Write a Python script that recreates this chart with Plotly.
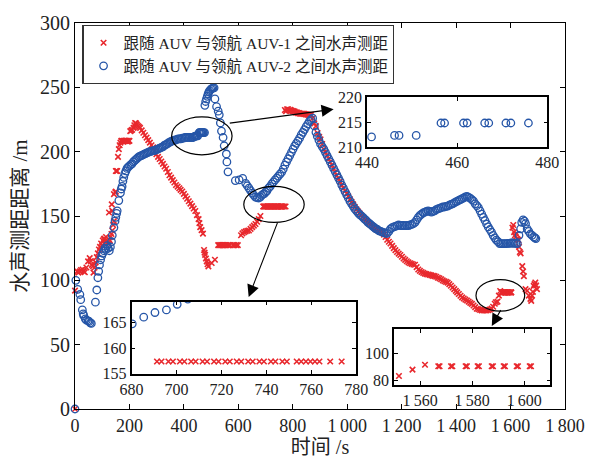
import plotly.graph_objects as go

# ---------------- data ----------------
blue_t = [0, 3, 10, 18, 21, 27, 30, 32, 38, 42, 48, 52, 56, 60,
          75, 80, 84, 87, 90, 94, 98, 102, 106, 110, 114, 118, 122, 126, 130, 134, 137, 143, 147, 150, 153, 155,
          161, 167, 170, 173, 176, 179, 183, 187, 191, 195, 200, 205, 209, 214, 219, 224, 229, 234, 239, 244,
          249, 254, 259, 264, 269, 274, 279, 284, 289, 294, 299, 304, 309, 314, 319, 324, 329, 334, 339, 344,
          349, 354, 359, 364, 369, 374, 379, 384, 389, 394, 399, 404, 409, 414, 419, 424, 429, 434, 437, 441,
          446.1, 447.1, 450.9, 456.4, 457.2, 461.4, 462.2, 466.1, 467, 470.8, 471.9, 475.8,
          477, 480, 483, 486, 489, 492, 495, 499, 503, 507, 511,
          514, 520, 526, 530, 534, 538, 544, 548, 556, 558, 562, 589, 603, 616, 627, 633, 639, 645, 651, 657,
          663, 669, 675, 680.3, 685.4, 690.4, 695.5, 700.3,
          705, 711, 717, 723, 729, 735, 741, 747, 753, 759, 765, 771, 777, 783, 789, 795, 801, 807, 813, 819,
          825, 831, 837, 843, 849, 855, 861, 867, 873,
          879, 885, 890, 896, 902, 908, 914, 920, 926, 932, 938, 944, 950, 956, 962, 968, 974, 980, 986, 992,
          998, 1004, 1010, 1016, 1022, 1028, 1034, 1040, 1046, 1052, 1058, 1064, 1070, 1076, 1082, 1088, 1094,
          1100, 1105, 1111, 1117, 1123, 1129, 1135, 1141, 1147, 1153, 1159, 1165, 1171, 1177, 1183, 1189, 1195,
          1201, 1207, 1213, 1219, 1225, 1231, 1237, 1243, 1249, 1255, 1261, 1267, 1273, 1279, 1285, 1291, 1297,
          1303, 1309, 1315, 1321, 1327, 1333, 1339, 1345, 1351, 1357, 1363, 1369, 1375, 1381, 1387, 1393, 1399,
          1405, 1411, 1416, 1422, 1428, 1434, 1440, 1446, 1452, 1458, 1464, 1470, 1476, 1482, 1488, 1494, 1500,
          1506, 1512, 1518, 1524, 1530, 1536, 1542, 1548, 1554, 1560, 1566, 1572, 1578, 1584, 1590, 1596, 1602,
          1607, 1613, 1619, 1625, 1631, 1637, 1641, 1646, 1651, 1655, 1661, 1667, 1673, 1679, 1685, 1689, 1693]
blue_d = [0, 100, 93, 89, 85, 77, 74, 72.5, 70, 69, 68.5, 68, 67, 66.5,
          83, 92.5, 102, 107, 112, 116, 119, 121, 123, 125, 124, 127, 125, 123, 126, 130, 135, 141, 146, 149, 152, 154,
          162, 168, 171, 173, 177, 180, 183, 185, 187, 188, 189, 190, 190.5, 192, 193, 194, 195, 196, 196.5, 197,
          197.5, 198, 198.5, 199, 199.5, 200, 200.3, 200.6, 200.8, 201, 201.5, 202, 202.5, 203, 203.5, 204, 205, 205.5, 206, 207,
          207.5, 208, 208.5, 209, 209, 209.5, 210, 210, 210, 210.5, 210.5, 211, 211, 211, 211, 211, 211, 211, 211.5, 212,
          212.3, 212.3, 212.3, 214.8, 214.8, 214.8, 214.8, 214.8, 214.8, 214.8, 214.8, 214.8,
          236, 239, 241, 243, 245, 246.5, 247.5, 248.5, 249, 249.5, 249.6,
          241, 235, 231.5, 228.6, 222.3, 216, 211, 204.6, 198.2, 192, 184.3, 177.5, 178, 179.2, 175.4, 173.5, 171.6, 169.7, 167.8, 166.2,
          164.6, 164.2, 164, 164.7, 166, 166.9, 167.4, 168.5,
          169.5, 171.6, 173, 175, 176.5, 178, 179.5, 181, 182.5, 184, 186.5, 189.5, 192, 194.5, 197, 199.5, 202, 204.5, 206.5, 208.4,
          210.5, 213, 215, 217.2, 219.5, 221.5, 223.6, 225, 226,
          220, 215, 212, 209, 206, 204, 202, 199.5, 197, 194.5, 192, 189.5, 187, 184.5, 182, 179.5, 177, 174, 171.6, 169,
          166.5, 164, 161.5, 159.5, 157.5, 155.5, 154, 152.5, 151, 150, 149, 147.5, 146.5, 145, 144, 143, 142,
          141, 140, 139.5, 138.5, 138, 137.5, 137, 136.5, 136.5, 138, 140, 141, 141.5, 142, 142.5, 143, 142.5,
          142.6, 142.6, 142.5, 142.6, 142.6, 143, 143.5, 144, 145, 147, 149, 150.5, 151.4, 152.5, 153, 153.5, 154,
          153.5, 153, 153.5, 154, 155, 155.5, 156, 156.5, 157, 157, 157.5, 157.7, 158.5, 159, 159.5, 160.2, 161,
          161.5, 162.3, 162.8, 163.5, 164, 164.8, 165.3, 164.5, 163.8, 162.8, 161.5, 159.5, 158, 156.5, 154, 151.4, 149,
          146.5, 143.8, 141.5, 139.5, 137.5, 135, 133, 131.2, 130, 128.6, 128.6, 128.6, 128.6, 128.6, 128.7, 128.8, 129,
          129, 128.8, 128.7, 128.6, 135, 140, 145, 147, 146, 144, 140, 138, 136, 135, 133.7, 133, 132.5]

red_t = [0, 0, 8, 12, 18, 22, 28, 32, 36, 42, 48, 54, 58, 62, 66, 68, 72, 76, 80, 84, 88, 92, 96, 100, 102, 106,
         108, 112, 114, 118, 122, 125, 125, 128, 131, 134, 135, 137, 137, 140, 143, 143, 148, 150, 150, 153, 155,
         158, 161, 164, 167, 170, 173, 176, 179, 182, 185, 188, 191, 194, 197, 200, 203, 207, 210, 215, 218, 221,
         224, 227, 231, 235, 239, 245, 251, 257, 263, 269, 275, 281, 287, 293, 299, 305, 311, 317, 323, 329, 335,
         341, 347, 353, 359, 365, 371, 377, 383, 388, 394, 400, 406, 412, 418, 424, 430, 436, 442, 448, 454, 457,
         460, 465, 470, 474, 476, 478, 481, 484, 487, 490, 502, 514, 526, 530, 534, 538, 542, 546, 550, 556, 562,
         568, 580, 586, 592, 598, 610, 615, 621, 627, 633, 639, 645, 651, 657, 663, 669, 675, 681,
         691.3, 693.3, 696.4, 698.4, 701.5, 703.5, 706.5, 708.5, 711.6, 713.6, 716.7, 718.7, 721.7, 723.7, 726.8,
         728.8, 731.9, 733.9, 736.9, 738.9, 742, 744, 747.1, 749.1, 753.5, 755.5, 757.6, 759.6, 761.6, 763.6,
         768.4, 773.5,
         771, 775, 779, 783, 787, 791, 795, 799, 803, 807, 811, 815, 819, 823, 827, 831, 835, 839, 843, 847, 851,
         855, 859, 863, 867,
         873, 879, 885, 891, 897, 902, 908, 914, 920, 926, 932, 938, 944, 950, 956, 962, 968, 974, 980, 986, 992,
         998, 1004, 1010, 1016, 1022, 1028, 1034, 1040, 1046, 1052, 1058, 1064, 1070, 1076, 1082, 1088, 1094, 1100,
         1105, 1111, 1117, 1123, 1129, 1135, 1141, 1147, 1153, 1159, 1165, 1171, 1177, 1183, 1189, 1195, 1201, 1207,
         1213, 1219, 1225, 1231, 1237, 1243, 1249, 1255, 1261, 1267, 1273, 1279, 1285, 1291, 1297, 1303, 1309, 1315,
         1321, 1327, 1333, 1339, 1345, 1351, 1357, 1363, 1369, 1375, 1381, 1387, 1393, 1399, 1404, 1410, 1416, 1422,
         1428, 1434, 1440, 1446, 1452, 1458, 1464, 1470, 1476, 1482, 1488, 1494, 1500, 1506, 1512, 1518, 1524, 1530,
         1536, 1542, 1546, 1551.9, 1557.1, 1561.9, 1567, 1567.5, 1571.9, 1572.4, 1577.5, 1578, 1582.1, 1582.6,
         1587.5, 1588, 1592.1, 1592.6, 1597.1, 1597.6, 1602.1, 1602.6,
         1607, 1610, 1613, 1616, 1619, 1622, 1625, 1629, 1631, 1634, 1637, 1643, 1646, 1649, 1655, 1661, 1667,
         1673, 1676, 1679, 1682, 1685, 1688, 1691, 1694, 1697]
red_d = [0, 92, 107, 106, 107, 108, 108.4, 107, 106.3, 110, 114.7, 117.3, 115, 112, 111, 106, 110, 114, 118, 121, 124, 126, 128.6, 127, 131, 132,
         132.5, 131, 133.7, 129, 130, 128.6, 152.7, 131, 133.7, 136, 159, 138.7, 154, 143, 146, 167, 168.5, 169, 185, 185, 185,
         196, 202, 205, 207, 208.4, 208.4, 208, 208.4, 208.4, 208.4, 208.4, 208.4, 207.8, 208.4, 208.4, 216, 216.5, 217, 218.5, 220.5, 222.3,
         222, 221, 220, 219.3, 218.5, 216.6, 214.7, 212.8, 210.9, 209, 207, 205, 203.3, 200.5, 198, 196, 194.3, 192.4, 190.5, 188.5, 186.7,
         184.2, 181.7, 179.8, 177.9, 176, 174.1, 172.8, 171.6, 170.3, 169, 167.2, 165.3, 163.4, 161.5, 159.6, 157.7, 155.8, 153.9, 150.7, 147.6, 144.5,
         141.3, 139, 136.3, 123.6, 121.5, 119.8, 117, 114.7, 112.5, 110.9, 113.5, 116, 127.4, 127.4, 127.4, 127.4, 127.4, 127.4, 127.4, 127.4, 127.4,
         127.4, 127.4, 127.4, 127.4, 127.4, 135, 136.5, 137.5, 138, 138.5, 138.7, 140, 141.3, 142.5, 143.8, 145.5, 147.6, 150,
         157.4, 157.4, 157.4, 157.4, 157.4, 157.4, 157.4, 157.4, 157.4, 157.4, 157.4, 157.4, 157.4, 157.4, 157.4,
         157.4, 157.4, 157.4, 157.4, 157.4, 157.4, 157.4, 157.4, 157.4, 157.4, 157.4, 157.4, 157.4, 157.4, 157.4,
         157.4, 157.4,
         232.4, 231.5, 233, 233, 232, 232.5, 232, 231.5, 231.5, 231.2, 230.5, 230.5, 230, 230, 229.5, 229.5, 229.5, 229.4, 229.4, 229, 229,
         228.8, 228.6, 228.6, 228.6,
         226, 222, 219.8, 214.5, 211.5, 209.6, 206, 202, 199.5, 197, 194.5, 192, 189.5, 186.8, 184, 181.5, 179.2, 176.7, 174, 171.6, 169.4,
         167.5, 165.3, 163, 161, 159, 157, 155.2, 153.5, 152, 150.5, 149, 147.8, 146.5, 145.2, 144, 143, 142, 141,
         140, 139, 138.5, 138, 137.5, 135.5, 133.7, 131.5, 130, 128.6, 126.8, 125, 123.5, 122, 120.8, 119.7, 118.3, 117,
         115.9, 114.8, 114, 113.3, 112.8, 112.3, 112.1, 110.3, 108.4, 107.4, 106.5, 105.8, 105.2, 104.8, 104.5, 104.2, 103.8, 103.5,
         103.3, 102.8, 102, 101.5, 100.8, 100, 99.3, 98.8, 98.2, 97, 95.8, 94.4, 93.2, 91.8, 90.6, 89.4, 88, 86.8,
         85.9, 85, 84.3, 83.4, 82.5, 81.7, 80.4, 79.2, 77.9, 77.5, 77, 76.7, 76.7, 76.7, 76.7, 76.8, 77.2, 78,
         79.5, 81.8, 83, 83.4, 88.1, 91.7, 90.6, 90.6, 90.6, 90.6, 90.6, 90.6, 90.6, 90.6,
         90.6, 90.6, 90.6, 90.6, 90.6, 90.6, 90.6, 90.6,
         141, 143, 137.5, 135, 133.7, 136, 132, 131.2, 126, 122, 121, 111, 107, 103.3, 93.2, 91.9, 88.1,
         85.6, 84, 88.1, 91, 95.7, 97, 98.3, 96, 93.2]

name_red = "跟随 AUV 与领航 AUV-1 之间水声测距"
name_blue = "跟随 AUV 与领航 AUV-2 之间水声测距"

TS = "\u2009"
x_ticks = [0, 200, 400, 600, 800, 1000, 1200, 1400, 1600, 1800]
x_ticktext = ["0", "200", "400", "600", "800", "1" + TS + "000", "1" + TS + "200", "1" + TS + "400",
              "1" + TS + "600", "1" + TS + "800"]
y_ticks = [0, 50, 100, 150, 200, 250, 300]

in1_x = [440, 460, 480]; in1_y = [210, 215, 220]
in2_x = [680, 700, 720, 740, 760, 780]; in2_y = [155, 160, 165]
in3_x = [1560, 1580, 1600]; in3_xt = ["1" + TS + "560", "1" + TS + "580", "1" + TS + "600"]; in3_y = [80, 100]

RED = "#e8282d"
BLUE = "#2656a8"
FONT = "Liberation Serif, Noto Sans CJK SC, serif"

fig = go.Figure()

def add_series(xa, ya, legend, clip):
    fig.add_trace(go.Scatter(x=red_t, y=red_d, mode="markers", name=name_red, showlegend=legend,
                             xaxis=xa, yaxis=ya, cliponaxis=clip,
                             marker=dict(symbol="x-thin", size=5.5, color=RED, line=dict(color=RED, width=1.6))))
    fig.add_trace(go.Scatter(x=blue_t, y=blue_d, mode="markers", name=name_blue, showlegend=legend,
                             xaxis=xa, yaxis=ya, cliponaxis=clip,
                             marker=dict(symbol="circle-open", size=7.5, color=BLUE, line=dict(color=BLUE, width=1.3))))

add_series("x", "y", True, False)
add_series("x2", "y2", False, True)
add_series("x3", "y3", False, True)
add_series("x4", "y4", False, True)

ax_common = dict(showline=True, linecolor="black", mirror="ticks", ticks="inside", tickcolor="black",
                 showgrid=False, zeroline=False)

inset_common = dict(ax_common, linewidth=1.6, ticklen=4, tickfont=dict(family=FONT, size=16, color="#222"))

fig.update_layout(
    width=597, height=466,
    margin=dict(l=75, r=20, t=16, b=54),
    paper_bgcolor="white", plot_bgcolor="white",
    font=dict(family=FONT, color="#222"),
    xaxis=dict(ax_common, range=[0, 1800], tickvals=x_ticks, ticktext=x_ticktext, linewidth=1.1, ticklen=5,
               tickfont=dict(family=FONT, size=18, color="#222"),
               title=dict(text="时间 /s", font=dict(family=FONT, size=20), standoff=4)),
    yaxis=dict(ax_common, range=[0, 300], tickvals=y_ticks, linewidth=1.1, ticklen=5,
               tickfont=dict(family=FONT, size=20, color="#222"),
               title=dict(text="水声测距距离 /m", font=dict(family=FONT, size=21), standoff=6)),
    xaxis2=dict(inset_common, domain=[0.596, 0.964], anchor="y2", range=[440, 480], tickvals=in1_x),
    yaxis2=dict(inset_common, domain=[0.679, 0.808], anchor="x2", range=[210, 220], tickvals=in1_y),
    xaxis3=dict(inset_common, domain=[0.1155, 0.574], anchor="y3", range=[680, 780], tickvals=in2_x),
    yaxis3=dict(inset_common, domain=[0.091, 0.278], anchor="x3", range=[155, 169], tickvals=in2_y),
    xaxis4=dict(inset_common, domain=[0.651, 0.970], anchor="y4", range=[1550, 1610], tickvals=in3_x, ticktext=in3_xt),
    yaxis4=dict(inset_common, domain=[0.063, 0.207], anchor="x4", range=[77, 118], tickvals=in3_y),
    legend=dict(x=0.015, y=0.995, xanchor="left", yanchor="top", bgcolor="white", bordercolor="#333",
                borderwidth=1.2, font=dict(family=FONT, size=15.5), tracegroupgap=0, itemwidth=30),
    showlegend=True,
)

shapes = []
for xa, ya in [("x2", "y2"), ("x3", "y3"), ("x4", "y4")]:
    shapes.append(dict(type="rect", xref=xa + " domain", yref=ya + " domain", x0=0, x1=1, y0=0, y1=1,
                       fillcolor="white", line=dict(width=0), layer="below"))
# ellipses highlighting the zoomed regions (data coordinates of main axes)
for x0, x1, y0, y1 in [(355, 577, 197.5, 227), (620, 842, 145, 173), (1473, 1652, 76, 100.5)]:
    shapes.append(dict(type="circle", xref="x", yref="y", x0=x0, x1=x1, y0=y0, y1=y1,
                       line=dict(color="black", width=1.2), layer="above"))
fig.update_layout(shapes=shapes)

for (hx, hy, tx, ty) in [(950, 233, 563, 222), (638, 87, 746, 146), (1531, 64.5, 1567, 78)]:
    fig.add_annotation(x=hx, y=hy, ax=tx, ay=ty, xref="x", yref="y", axref="x", ayref="y",
                       showarrow=True, arrowhead=2, arrowsize=2.2, arrowwidth=1.1, arrowcolor="black",
                       text="", standoff=0)

fig.write_html("out.html")
